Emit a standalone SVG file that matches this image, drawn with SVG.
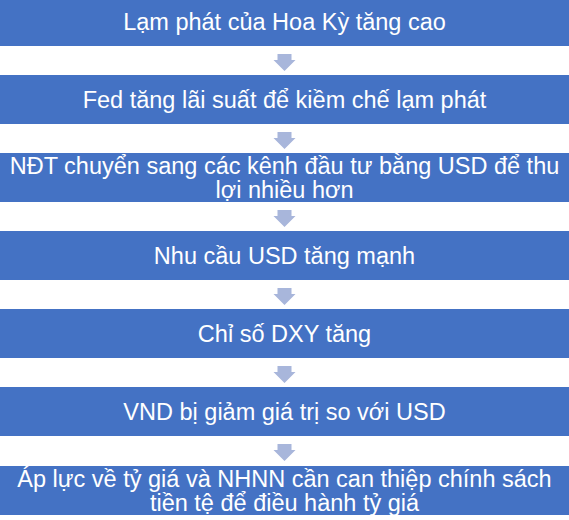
<svg xmlns="http://www.w3.org/2000/svg" width="569" height="520" viewBox="0 0 569 520">
<style>
.box{fill:#4472C4;}
.t{font-family:"Liberation Sans",Arial,sans-serif;font-size:23.5px;fill:#FFFFFF;text-anchor:middle;}
.arr{fill:#A8B6DB;}
</style>
<defs>
<path id="dn" d="M-7,0 H7 V6 H11 L0,17 L-11,6 H-7 Z"/>
</defs>
<rect width="569" height="520" fill="#FFFFFF"/>
<g id="connectors">
<use href="#dn" class="arr" x="284.5" y="54"/>
<use href="#dn" class="arr" x="284.5" y="132"/>
<use href="#dn" class="arr" x="284.5" y="210"/>
<use href="#dn" class="arr" x="284.5" y="288"/>
<use href="#dn" class="arr" x="284.5" y="366"/>
<use href="#dn" class="arr" x="284.5" y="444"/>
</g>
<g id="n1"><rect class="box" x="0" y="-3" width="569" height="49"/><text class="t" x="284.5" y="30">Lạm phát của Hoa Kỳ tăng cao</text></g>
<g id="n2"><rect class="box" x="0" y="75" width="569" height="49"/><text class="t" x="284.5" y="108">Fed tăng lãi suất để kiềm chế lạm phát</text></g>
<g id="n3"><rect class="box" x="0" y="153" width="569" height="49"/><text class="t" x="284.5" y="174">NĐT chuyển sang các kênh đầu tư bằng USD để thu</text><text class="t" x="284.5" y="198">lợi nhiều hơn</text></g>
<g id="n4"><rect class="box" x="0" y="231" width="569" height="49"/><text class="t" x="284.5" y="264">Nhu cầu USD tăng mạnh</text></g>
<g id="n5"><rect class="box" x="0" y="309" width="569" height="49"/><text class="t" x="284.5" y="342">Chỉ số DXY tăng</text></g>
<g id="n6"><rect class="box" x="0" y="387" width="569" height="49"/><text class="t" x="284.5" y="420">VND bị giảm giá trị so với USD</text></g>
<g id="n7"><rect class="box" x="0" y="466" width="569" height="49"/><text class="t" x="284.5" y="487">Áp lực về tỷ giá và NHNN cần can thiệp chính sách</text><text class="t" x="284.5" y="511">tiền tệ để điều hành tỷ giá</text></g>
</svg>
